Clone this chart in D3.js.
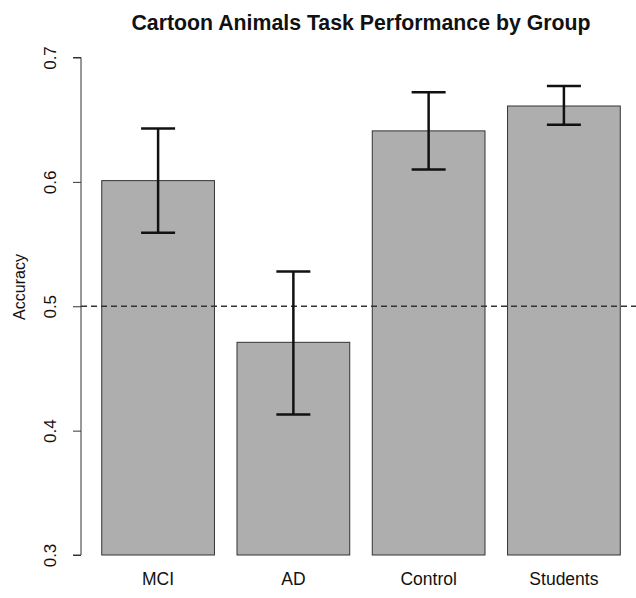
<!DOCTYPE html>
<html>
<head>
<meta charset="utf-8">
<script src="https://cdn.jsdelivr.net/npm/d3@7"></script>
<style>
  body { margin: 0; background: #fff; }
  svg { display: block; font-family: "Liberation Sans", Arial, sans-serif; }
</style>
</head>
<body>
<div id="chart"></div>
<script>
// groups and values
const groups = ['MCI', 'AD', 'Control', 'Students'];
const means = [0.601, 0.471, 0.641, 0.661];
const lower = [0.559, 0.413, 0.610, 0.646];
const upper = [0.643, 0.528, 0.672, 0.677];
const yTicks = [0.3, 0.4, 0.5, 0.6, 0.7];
const chance = 0.5;

const W = 636, H = 598;

const svg = d3.select('#chart').append('svg')
    .attr('width', W)
    .attr('height', H);

// plot region like R's barplot (width 1, space 0.2)
const x = d3.scaleBand()
    .domain(groups)
    .range([81, 641])
    .paddingInner(1 / 6)
    .paddingOuter(0.1533);

const y = d3.scaleLinear()
    .domain([0.3, 0.7])
    .range([555, 57.5]);

// bars
svg.append('g').selectAll('rect')
    .data(groups)
    .enter()
    .append('rect')
    .attr('x', d => x(d))
    .attr('width', x.bandwidth())
    .attr('y', (d, i) => y(means[i]))
    .attr('height', (d, i) => y(0.3) - y(means[i]))
    .attr('fill', '#aeaeae')
    .attr('stroke', '#333')
    .attr('stroke-width', 1);

// dashed line at chance
svg.append('line')
    .attr('x1', 81).attr('x2', W)
    .attr('y1', y(chance)).attr('y2', y(chance))
    .attr('stroke', '#333')
    .attr('stroke-width', 1.5)
    .attr('stroke-dasharray', '6,4');

// error bars
const eb = svg.append('g')
    .attr('stroke', '#111')
    .attr('stroke-width', 2.5);
groups.forEach((g, i) => {
    const cx = x(g) + x.bandwidth() / 2;
    eb.append('line')
        .attr('x1', cx).attr('x2', cx)
        .attr('y1', y(lower[i])).attr('y2', y(upper[i]));
    [lower[i], upper[i]].forEach(v => {
        eb.append('line')
            .attr('x1', cx - 17).attr('x2', cx + 17)
            .attr('y1', y(v)).attr('y2', y(v));
    });
});

// y axis, labels rotated as in R
const yAxis = d3.axisLeft(y)
    .tickValues(yTicks)
    .tickSize(8)
    .tickPadding(0)
    .tickFormat(d3.format('.1f'));

const ay = svg.append('g')
    .attr('transform', 'translate(81,0)')
    .call(yAxis);
ay.select('.domain').attr('stroke', '#333').attr('d', `M-8,${y(0.7)}H0V${y(0.3)}H-8`);
ay.selectAll('.tick line').attr('stroke', '#333');
ay.selectAll('.tick text')
    .attr('x', null).attr('dy', null)
    .attr('text-anchor', 'middle')
    .attr('transform', 'translate(-31,0) rotate(-90)')
    .attr('dy', '0.35em')
    .attr('font-size', 17)
    .attr('fill', '#111');

// x labels
svg.append('g').selectAll('text')
    .data(groups)
    .enter()
    .append('text')
    .attr('x', d => x(d) + x.bandwidth() / 2)
    .attr('y', 585)
    .attr('text-anchor', 'middle')
    .attr('font-size', 17.5)
    .attr('fill', '#111')
    .text(d => d);

// y title
svg.append('text')
    .attr('transform', 'translate(25,287) rotate(-90)')
    .attr('text-anchor', 'middle')
    .attr('font-size', 16)
    .attr('fill', '#111')
    .text('Accuracy');

// main title
svg.append('text')
    .attr('x', 361)
    .attr('y', 30)
    .attr('text-anchor', 'middle')
    .attr('font-size', 21.3)
    .attr('font-weight', 'bold')
    .attr('fill', '#111')
    .text('Cartoon Animals Task Performance by Group');
</script>
</body>
</html>
